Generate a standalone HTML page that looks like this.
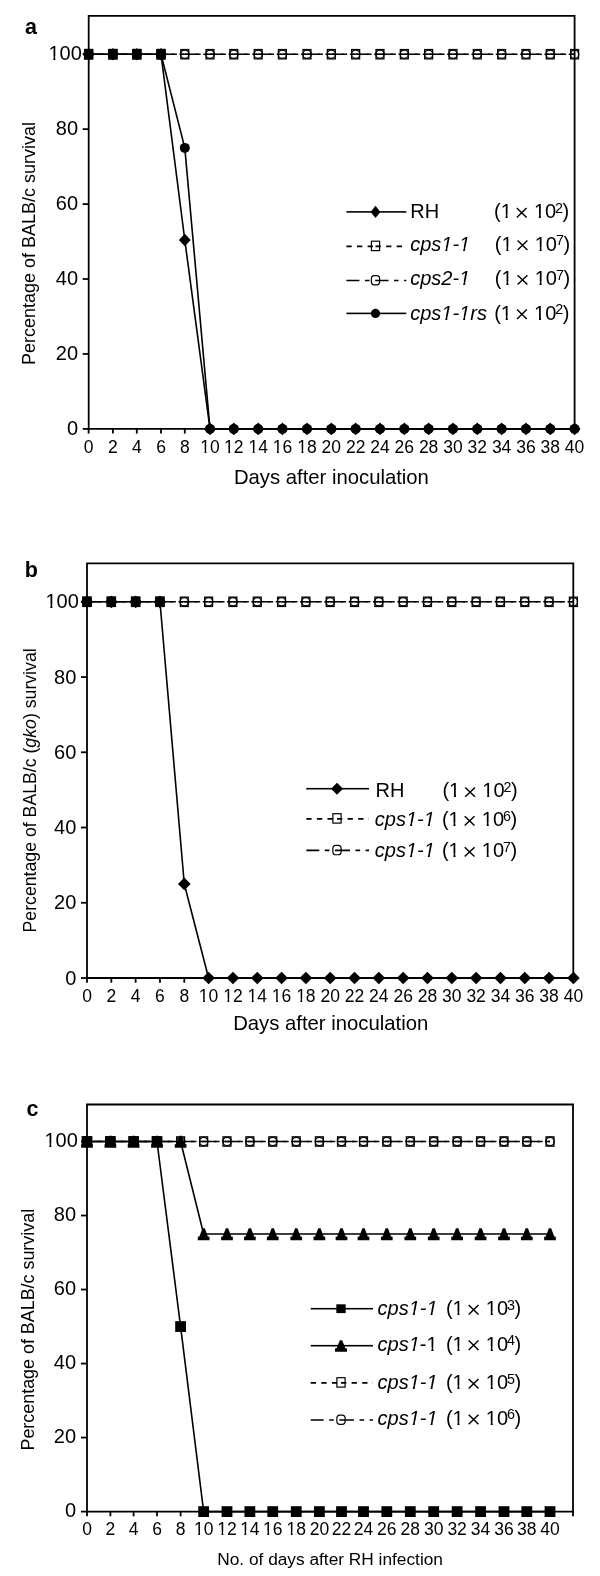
<!DOCTYPE html>
<html><head><meta charset="utf-8"><style>
html,body{margin:0;padding:0;background:#fff;}
svg{display:block;will-change:transform;}
text{font-family:"Liberation Sans", sans-serif;fill:#000;}
</style></head><body>
<svg width="600" height="1576" viewBox="0 0 600 1576">
<rect width="600" height="1576" fill="#fff"/>
<path d="M88.7 15.8H574.6V428.9H88.7Z" fill="none" stroke="#000" stroke-width="1.8"/>
<path d="M82.7 428.9H88.7" stroke="#000" stroke-width="1.8"/>
<text x="78.1" y="434.7" text-anchor="end" font-size="20">0</text>
<path d="M82.7 353.96H88.7" stroke="#000" stroke-width="1.8"/>
<text x="78.1" y="359.76" text-anchor="end" font-size="20">20</text>
<path d="M82.7 279.02H88.7" stroke="#000" stroke-width="1.8"/>
<text x="78.1" y="284.82" text-anchor="end" font-size="20">40</text>
<path d="M82.7 204.08H88.7" stroke="#000" stroke-width="1.8"/>
<text x="78.1" y="209.88" text-anchor="end" font-size="20">60</text>
<path d="M82.7 129.14H88.7" stroke="#000" stroke-width="1.8"/>
<text x="78.1" y="134.94" text-anchor="end" font-size="20">80</text>
<path d="M82.7 54.2H88.7" stroke="#000" stroke-width="1.8"/>
<text x="81.8" y="60" text-anchor="end" font-size="20">100</text>
<path d="M88.6 428.9V433.6" stroke="#000" stroke-width="1.8"/>
<text x="88.6" y="453.1" text-anchor="middle" font-size="17.5">0</text>
<path d="M112.9 428.9V433.6" stroke="#000" stroke-width="1.8"/>
<text x="112.9" y="453.1" text-anchor="middle" font-size="17.5">2</text>
<path d="M136.8 428.9V433.6" stroke="#000" stroke-width="1.8"/>
<text x="136.8" y="453.1" text-anchor="middle" font-size="17.5">4</text>
<path d="M161 428.9V433.6" stroke="#000" stroke-width="1.8"/>
<text x="161" y="453.1" text-anchor="middle" font-size="17.5">6</text>
<path d="M184.8 428.9V433.6" stroke="#000" stroke-width="1.8"/>
<text x="184.8" y="453.1" text-anchor="middle" font-size="17.5">8</text>
<path d="M210 428.9V433.6" stroke="#000" stroke-width="1.8"/>
<text x="210" y="453.1" text-anchor="middle" font-size="17.5">10</text>
<path d="M233.8 428.9V433.6" stroke="#000" stroke-width="1.8"/>
<text x="233.8" y="453.1" text-anchor="middle" font-size="17.5">12</text>
<path d="M258.2 428.9V433.6" stroke="#000" stroke-width="1.8"/>
<text x="258.2" y="453.1" text-anchor="middle" font-size="17.5">14</text>
<path d="M282.4 428.9V433.6" stroke="#000" stroke-width="1.8"/>
<text x="282.4" y="453.1" text-anchor="middle" font-size="17.5">16</text>
<path d="M307 428.9V433.6" stroke="#000" stroke-width="1.8"/>
<text x="307" y="453.1" text-anchor="middle" font-size="17.5">18</text>
<path d="M331.33 428.9V433.6" stroke="#000" stroke-width="1.8"/>
<text x="331.33" y="453.1" text-anchor="middle" font-size="17.5">20</text>
<path d="M355.65 428.9V433.6" stroke="#000" stroke-width="1.8"/>
<text x="355.65" y="453.1" text-anchor="middle" font-size="17.5">22</text>
<path d="M379.98 428.9V433.6" stroke="#000" stroke-width="1.8"/>
<text x="379.98" y="453.1" text-anchor="middle" font-size="17.5">24</text>
<path d="M404.31 428.9V433.6" stroke="#000" stroke-width="1.8"/>
<text x="404.31" y="453.1" text-anchor="middle" font-size="17.5">26</text>
<path d="M428.64 428.9V433.6" stroke="#000" stroke-width="1.8"/>
<text x="428.64" y="453.1" text-anchor="middle" font-size="17.5">28</text>
<path d="M452.96 428.9V433.6" stroke="#000" stroke-width="1.8"/>
<text x="452.96" y="453.1" text-anchor="middle" font-size="17.5">30</text>
<path d="M477.29 428.9V433.6" stroke="#000" stroke-width="1.8"/>
<text x="477.29" y="453.1" text-anchor="middle" font-size="17.5">32</text>
<path d="M501.62 428.9V433.6" stroke="#000" stroke-width="1.8"/>
<text x="501.62" y="453.1" text-anchor="middle" font-size="17.5">34</text>
<path d="M525.95 428.9V433.6" stroke="#000" stroke-width="1.8"/>
<text x="525.95" y="453.1" text-anchor="middle" font-size="17.5">36</text>
<path d="M550.27 428.9V433.6" stroke="#000" stroke-width="1.8"/>
<text x="550.27" y="453.1" text-anchor="middle" font-size="17.5">38</text>
<path d="M574.6 428.9V433.6" stroke="#000" stroke-width="1.8"/>
<text x="574.6" y="453.1" text-anchor="middle" font-size="17.5">40</text>
<text x="331.4" y="484.3" text-anchor="middle" font-size="20.3">Days after inoculation</text>
<text transform="translate(34.5 243.5) rotate(-90)" text-anchor="middle" font-size="18">Percentage of BALB/c survival</text>
<text x="25" y="34.2" font-size="21.5" font-weight="bold">a</text>
<path d="M88.6 54.2L112.9 54.2" fill="none" stroke="#000" stroke-width="1.6" stroke-dasharray="5.3 5.3"/>
<path d="M112.9 54.2L136.8 54.2" fill="none" stroke="#000" stroke-width="1.6" stroke-dasharray="5.3 5.3"/>
<path d="M136.8 54.2L161 54.2" fill="none" stroke="#000" stroke-width="1.6" stroke-dasharray="5.3 5.3"/>
<path d="M161 54.2L184.8 54.2" fill="none" stroke="#000" stroke-width="1.6" stroke-dasharray="5.3 5.3"/>
<path d="M184.8 54.2L210 54.2" fill="none" stroke="#000" stroke-width="1.6" stroke-dasharray="5.3 5.3"/>
<path d="M210 54.2L233.8 54.2" fill="none" stroke="#000" stroke-width="1.6" stroke-dasharray="5.3 5.3"/>
<path d="M233.8 54.2L258.2 54.2" fill="none" stroke="#000" stroke-width="1.6" stroke-dasharray="5.3 5.3"/>
<path d="M258.2 54.2L282.4 54.2" fill="none" stroke="#000" stroke-width="1.6" stroke-dasharray="5.3 5.3"/>
<path d="M282.4 54.2L307 54.2" fill="none" stroke="#000" stroke-width="1.6" stroke-dasharray="5.3 5.3"/>
<path d="M307 54.2L331.33 54.2" fill="none" stroke="#000" stroke-width="1.6" stroke-dasharray="5.3 5.3"/>
<path d="M331.33 54.2L355.65 54.2" fill="none" stroke="#000" stroke-width="1.6" stroke-dasharray="5.3 5.3"/>
<path d="M355.65 54.2L379.98 54.2" fill="none" stroke="#000" stroke-width="1.6" stroke-dasharray="5.3 5.3"/>
<path d="M379.98 54.2L404.31 54.2" fill="none" stroke="#000" stroke-width="1.6" stroke-dasharray="5.3 5.3"/>
<path d="M404.31 54.2L428.64 54.2" fill="none" stroke="#000" stroke-width="1.6" stroke-dasharray="5.3 5.3"/>
<path d="M428.64 54.2L452.96 54.2" fill="none" stroke="#000" stroke-width="1.6" stroke-dasharray="5.3 5.3"/>
<path d="M452.96 54.2L477.29 54.2" fill="none" stroke="#000" stroke-width="1.6" stroke-dasharray="5.3 5.3"/>
<path d="M477.29 54.2L501.62 54.2" fill="none" stroke="#000" stroke-width="1.6" stroke-dasharray="5.3 5.3"/>
<path d="M501.62 54.2L525.95 54.2" fill="none" stroke="#000" stroke-width="1.6" stroke-dasharray="5.3 5.3"/>
<path d="M525.95 54.2L550.27 54.2" fill="none" stroke="#000" stroke-width="1.6" stroke-dasharray="5.3 5.3"/>
<path d="M550.27 54.2L574.6 54.2" fill="none" stroke="#000" stroke-width="1.6" stroke-dasharray="5.3 5.3"/>
<rect x="84.65" y="49.55" width="7.9" height="9.3" fill="none" stroke="#000" stroke-width="1.3"/>
<rect x="108.95" y="49.55" width="7.9" height="9.3" fill="none" stroke="#000" stroke-width="1.3"/>
<rect x="132.85" y="49.55" width="7.9" height="9.3" fill="none" stroke="#000" stroke-width="1.3"/>
<rect x="157.05" y="49.55" width="7.9" height="9.3" fill="none" stroke="#000" stroke-width="1.3"/>
<rect x="180.85" y="49.55" width="7.9" height="9.3" fill="none" stroke="#000" stroke-width="1.3"/>
<rect x="206.05" y="49.55" width="7.9" height="9.3" fill="none" stroke="#000" stroke-width="1.3"/>
<rect x="229.85" y="49.55" width="7.9" height="9.3" fill="none" stroke="#000" stroke-width="1.3"/>
<rect x="254.25" y="49.55" width="7.9" height="9.3" fill="none" stroke="#000" stroke-width="1.3"/>
<rect x="278.45" y="49.55" width="7.9" height="9.3" fill="none" stroke="#000" stroke-width="1.3"/>
<rect x="303.05" y="49.55" width="7.9" height="9.3" fill="none" stroke="#000" stroke-width="1.3"/>
<rect x="327.38" y="49.55" width="7.9" height="9.3" fill="none" stroke="#000" stroke-width="1.3"/>
<rect x="351.7" y="49.55" width="7.9" height="9.3" fill="none" stroke="#000" stroke-width="1.3"/>
<rect x="376.03" y="49.55" width="7.9" height="9.3" fill="none" stroke="#000" stroke-width="1.3"/>
<rect x="400.36" y="49.55" width="7.9" height="9.3" fill="none" stroke="#000" stroke-width="1.3"/>
<rect x="424.69" y="49.55" width="7.9" height="9.3" fill="none" stroke="#000" stroke-width="1.3"/>
<rect x="449.01" y="49.55" width="7.9" height="9.3" fill="none" stroke="#000" stroke-width="1.3"/>
<rect x="473.34" y="49.55" width="7.9" height="9.3" fill="none" stroke="#000" stroke-width="1.3"/>
<rect x="497.67" y="49.55" width="7.9" height="9.3" fill="none" stroke="#000" stroke-width="1.3"/>
<rect x="522" y="49.55" width="7.9" height="9.3" fill="none" stroke="#000" stroke-width="1.3"/>
<rect x="546.32" y="49.55" width="7.9" height="9.3" fill="none" stroke="#000" stroke-width="1.3"/>
<rect x="570.65" y="49.55" width="7.9" height="9.3" fill="none" stroke="#000" stroke-width="1.3"/>
<path d="M88.6 54.2L112.9 54.2" fill="none" stroke="#000" stroke-width="1.6" stroke-dasharray="13 5.5 4.6 5.5"/>
<path d="M112.9 54.2L136.8 54.2" fill="none" stroke="#000" stroke-width="1.6" stroke-dasharray="13 5.5 4.6 5.5"/>
<path d="M136.8 54.2L161 54.2" fill="none" stroke="#000" stroke-width="1.6" stroke-dasharray="13 5.5 4.6 5.5"/>
<path d="M161 54.2L184.8 54.2" fill="none" stroke="#000" stroke-width="1.6" stroke-dasharray="13 5.5 4.6 5.5"/>
<path d="M184.8 54.2L210 54.2" fill="none" stroke="#000" stroke-width="1.6" stroke-dasharray="13 5.5 4.6 5.5"/>
<path d="M210 54.2L233.8 54.2" fill="none" stroke="#000" stroke-width="1.6" stroke-dasharray="13 5.5 4.6 5.5"/>
<path d="M233.8 54.2L258.2 54.2" fill="none" stroke="#000" stroke-width="1.6" stroke-dasharray="13 5.5 4.6 5.5"/>
<path d="M258.2 54.2L282.4 54.2" fill="none" stroke="#000" stroke-width="1.6" stroke-dasharray="13 5.5 4.6 5.5"/>
<path d="M282.4 54.2L307 54.2" fill="none" stroke="#000" stroke-width="1.6" stroke-dasharray="13 5.5 4.6 5.5"/>
<path d="M307 54.2L331.33 54.2" fill="none" stroke="#000" stroke-width="1.6" stroke-dasharray="13 5.5 4.6 5.5"/>
<path d="M331.33 54.2L355.65 54.2" fill="none" stroke="#000" stroke-width="1.6" stroke-dasharray="13 5.5 4.6 5.5"/>
<path d="M355.65 54.2L379.98 54.2" fill="none" stroke="#000" stroke-width="1.6" stroke-dasharray="13 5.5 4.6 5.5"/>
<path d="M379.98 54.2L404.31 54.2" fill="none" stroke="#000" stroke-width="1.6" stroke-dasharray="13 5.5 4.6 5.5"/>
<path d="M404.31 54.2L428.64 54.2" fill="none" stroke="#000" stroke-width="1.6" stroke-dasharray="13 5.5 4.6 5.5"/>
<path d="M428.64 54.2L452.96 54.2" fill="none" stroke="#000" stroke-width="1.6" stroke-dasharray="13 5.5 4.6 5.5"/>
<path d="M452.96 54.2L477.29 54.2" fill="none" stroke="#000" stroke-width="1.6" stroke-dasharray="13 5.5 4.6 5.5"/>
<path d="M477.29 54.2L501.62 54.2" fill="none" stroke="#000" stroke-width="1.6" stroke-dasharray="13 5.5 4.6 5.5"/>
<path d="M501.62 54.2L525.95 54.2" fill="none" stroke="#000" stroke-width="1.6" stroke-dasharray="13 5.5 4.6 5.5"/>
<path d="M525.95 54.2L550.27 54.2" fill="none" stroke="#000" stroke-width="1.6" stroke-dasharray="13 5.5 4.6 5.5"/>
<path d="M550.27 54.2L574.6 54.2" fill="none" stroke="#000" stroke-width="1.6" stroke-dasharray="13 5.5 4.6 5.5"/>
<circle cx="88.6" cy="54.2" r="4.17" fill="none" stroke="#000" stroke-width="1.25"/>
<circle cx="112.9" cy="54.2" r="4.17" fill="none" stroke="#000" stroke-width="1.25"/>
<circle cx="136.8" cy="54.2" r="4.17" fill="none" stroke="#000" stroke-width="1.25"/>
<circle cx="161" cy="54.2" r="4.17" fill="none" stroke="#000" stroke-width="1.25"/>
<circle cx="184.8" cy="54.2" r="4.17" fill="none" stroke="#000" stroke-width="1.25"/>
<circle cx="210" cy="54.2" r="4.17" fill="none" stroke="#000" stroke-width="1.25"/>
<circle cx="233.8" cy="54.2" r="4.17" fill="none" stroke="#000" stroke-width="1.25"/>
<circle cx="258.2" cy="54.2" r="4.17" fill="none" stroke="#000" stroke-width="1.25"/>
<circle cx="282.4" cy="54.2" r="4.17" fill="none" stroke="#000" stroke-width="1.25"/>
<circle cx="307" cy="54.2" r="4.17" fill="none" stroke="#000" stroke-width="1.25"/>
<circle cx="331.33" cy="54.2" r="4.17" fill="none" stroke="#000" stroke-width="1.25"/>
<circle cx="355.65" cy="54.2" r="4.17" fill="none" stroke="#000" stroke-width="1.25"/>
<circle cx="379.98" cy="54.2" r="4.17" fill="none" stroke="#000" stroke-width="1.25"/>
<circle cx="404.31" cy="54.2" r="4.17" fill="none" stroke="#000" stroke-width="1.25"/>
<circle cx="428.64" cy="54.2" r="4.17" fill="none" stroke="#000" stroke-width="1.25"/>
<circle cx="452.96" cy="54.2" r="4.17" fill="none" stroke="#000" stroke-width="1.25"/>
<circle cx="477.29" cy="54.2" r="4.17" fill="none" stroke="#000" stroke-width="1.25"/>
<circle cx="501.62" cy="54.2" r="4.17" fill="none" stroke="#000" stroke-width="1.25"/>
<circle cx="525.95" cy="54.2" r="4.17" fill="none" stroke="#000" stroke-width="1.25"/>
<circle cx="550.27" cy="54.2" r="4.17" fill="none" stroke="#000" stroke-width="1.25"/>
<circle cx="574.6" cy="54.2" r="4.17" fill="none" stroke="#000" stroke-width="1.25"/>
<path d="M88.6 54.2 L112.9 54.2 L136.8 54.2 L161 54.2 L184.8 240 L210 428.9 L233.8 428.9 L258.2 428.9 L282.4 428.9 L307 428.9 L331.33 428.9 L355.65 428.9 L379.98 428.9 L404.31 428.9 L428.64 428.9 L452.96 428.9 L477.29 428.9 L501.62 428.9 L525.95 428.9 L550.27 428.9 L574.6 428.9" fill="none" stroke="#000" stroke-width="1.6" stroke-linejoin="round"/>
<path d="M88.6 47.9L94.5 54.2L88.6 60.5L82.7 54.2Z" fill="#000"/>
<path d="M112.9 47.9L118.8 54.2L112.9 60.5L107 54.2Z" fill="#000"/>
<path d="M136.8 47.9L142.7 54.2L136.8 60.5L130.9 54.2Z" fill="#000"/>
<path d="M161 47.9L166.9 54.2L161 60.5L155.1 54.2Z" fill="#000"/>
<path d="M184.8 233.7L190.7 240L184.8 246.3L178.9 240Z" fill="#000"/>
<path d="M210 422.6L215.9 428.9L210 435.2L204.1 428.9Z" fill="#000"/>
<path d="M233.8 422.6L239.7 428.9L233.8 435.2L227.9 428.9Z" fill="#000"/>
<path d="M258.2 422.6L264.1 428.9L258.2 435.2L252.3 428.9Z" fill="#000"/>
<path d="M282.4 422.6L288.3 428.9L282.4 435.2L276.5 428.9Z" fill="#000"/>
<path d="M307 422.6L312.9 428.9L307 435.2L301.1 428.9Z" fill="#000"/>
<path d="M331.33 422.6L337.23 428.9L331.33 435.2L325.43 428.9Z" fill="#000"/>
<path d="M355.65 422.6L361.55 428.9L355.65 435.2L349.75 428.9Z" fill="#000"/>
<path d="M379.98 422.6L385.88 428.9L379.98 435.2L374.08 428.9Z" fill="#000"/>
<path d="M404.31 422.6L410.21 428.9L404.31 435.2L398.41 428.9Z" fill="#000"/>
<path d="M428.64 422.6L434.54 428.9L428.64 435.2L422.74 428.9Z" fill="#000"/>
<path d="M452.96 422.6L458.86 428.9L452.96 435.2L447.06 428.9Z" fill="#000"/>
<path d="M477.29 422.6L483.19 428.9L477.29 435.2L471.39 428.9Z" fill="#000"/>
<path d="M501.62 422.6L507.52 428.9L501.62 435.2L495.72 428.9Z" fill="#000"/>
<path d="M525.95 422.6L531.85 428.9L525.95 435.2L520.05 428.9Z" fill="#000"/>
<path d="M550.27 422.6L556.17 428.9L550.27 435.2L544.37 428.9Z" fill="#000"/>
<path d="M574.6 422.6L580.5 428.9L574.6 435.2L568.7 428.9Z" fill="#000"/>
<path d="M88.6 54.2 L112.9 54.2 L136.8 54.2 L161 54.2 L184.8 147.88 L210 428.9 L233.8 428.9 L258.2 428.9 L282.4 428.9 L307 428.9 L331.33 428.9 L355.65 428.9 L379.98 428.9 L404.31 428.9 L428.64 428.9 L452.96 428.9 L477.29 428.9 L501.62 428.9 L525.95 428.9 L550.27 428.9 L574.6 428.9" fill="none" stroke="#000" stroke-width="1.6" stroke-linejoin="round"/>
<circle cx="88.6" cy="54.2" r="5" fill="#000"/>
<circle cx="112.9" cy="54.2" r="5" fill="#000"/>
<circle cx="136.8" cy="54.2" r="5" fill="#000"/>
<circle cx="161" cy="54.2" r="5" fill="#000"/>
<circle cx="184.8" cy="147.88" r="5" fill="#000"/>
<circle cx="210" cy="428.9" r="5" fill="#000"/>
<circle cx="233.8" cy="428.9" r="5" fill="#000"/>
<circle cx="258.2" cy="428.9" r="5" fill="#000"/>
<circle cx="282.4" cy="428.9" r="5" fill="#000"/>
<circle cx="307" cy="428.9" r="5" fill="#000"/>
<circle cx="331.33" cy="428.9" r="5" fill="#000"/>
<circle cx="355.65" cy="428.9" r="5" fill="#000"/>
<circle cx="379.98" cy="428.9" r="5" fill="#000"/>
<circle cx="404.31" cy="428.9" r="5" fill="#000"/>
<circle cx="428.64" cy="428.9" r="5" fill="#000"/>
<circle cx="452.96" cy="428.9" r="5" fill="#000"/>
<circle cx="477.29" cy="428.9" r="5" fill="#000"/>
<circle cx="501.62" cy="428.9" r="5" fill="#000"/>
<circle cx="525.95" cy="428.9" r="5" fill="#000"/>
<circle cx="550.27" cy="428.9" r="5" fill="#000"/>
<circle cx="574.6" cy="428.9" r="5" fill="#000"/>
<rect x="83.9" y="48.9" width="9.4" height="10.6" fill="#000"/>
<rect x="108.2" y="48.9" width="9.4" height="10.6" fill="#000"/>
<rect x="132.1" y="48.9" width="9.4" height="10.6" fill="#000"/>
<rect x="156.3" y="48.9" width="9.4" height="10.6" fill="#000"/>
<path d="M346.4 211.9H375.5" stroke="#000" stroke-width="1.6" />
<path d="M375.5 211.9H406.3" stroke="#000" stroke-width="1.6" />
<path d="M375.5 205.8L380.4 211.9L375.5 218L370.6 211.9Z" fill="#000"/>
<text x="410.2" y="218" font-size="20">RH</text>
<text x="494" y="218" font-size="20">(1</text>
<path d="M516.8 208L526.6 217.4M526.6 208L516.8 217.4" stroke="#000" stroke-width="1.45"/>
<text x="533.9" y="218" font-size="20">10</text>
<text x="555.1" y="212.5" font-size="14.3">2</text>
<text x="562.6" y="218" font-size="20">)</text>
<path d="M346.4 246.4H375.5" stroke="#000" stroke-width="1.6" stroke-dasharray="5.3 5.3"/>
<path d="M375.5 246.4H406.3" stroke="#000" stroke-width="1.6" stroke-dasharray="5.3 5.3"/>
<rect x="371.4" y="241.2" width="8.2" height="9.4" fill="none" stroke="#000" stroke-width="1.2"/>
<text x="410.2" y="250.6" font-size="20"><tspan font-style="italic">cps1-1</tspan></text>
<text x="494.8" y="250.6" font-size="20">(1</text>
<path d="M517.6 240.6L527.4 250M527.4 240.6L517.6 250" stroke="#000" stroke-width="1.45"/>
<text x="534.7" y="250.6" font-size="20">10</text>
<text x="555.9" y="245.1" font-size="14.3">7</text>
<text x="563.4" y="250.6" font-size="20">)</text>
<path d="M346.4 280.5H375.5" stroke="#000" stroke-width="1.6" stroke-dasharray="13 5.5 4.6 5.5"/>
<path d="M375.5 280.5H406.3" stroke="#000" stroke-width="1.6" stroke-dasharray="13 5.5 4.6 5.5"/>
<rect x="371.35" y="275.55" width="8.3" height="9.3" rx="3" ry="3.3" fill="none" stroke="#000" stroke-width="1.2"/>
<text x="410.2" y="285.2" font-size="20"><tspan font-style="italic">cps2-1</tspan></text>
<text x="494.8" y="285.2" font-size="20">(1</text>
<path d="M517.6 275.2L527.4 284.6M527.4 275.2L517.6 284.6" stroke="#000" stroke-width="1.45"/>
<text x="534.7" y="285.2" font-size="20">10</text>
<text x="555.9" y="279.7" font-size="14.3">7</text>
<text x="563.4" y="285.2" font-size="20">)</text>
<path d="M346.4 313.4H375.5" stroke="#000" stroke-width="1.6" />
<path d="M375.5 313.4H406.3" stroke="#000" stroke-width="1.6" />
<circle cx="375.5" cy="313.4" r="4.6" fill="#000"/>
<text x="410.2" y="319.5" font-size="20"><tspan font-style="italic">cps1-1rs</tspan></text>
<text x="494.2" y="319.5" font-size="20">(1</text>
<path d="M517 309.5L526.8 318.9M526.8 309.5L517 318.9" stroke="#000" stroke-width="1.45"/>
<text x="534.1" y="319.5" font-size="20">10</text>
<text x="555.3" y="314" font-size="14.3">2</text>
<text x="562.8" y="319.5" font-size="20">)</text>
<path d="M87 563.3H573.3V978H87Z" fill="none" stroke="#000" stroke-width="1.8"/>
<path d="M81 978H87" stroke="#000" stroke-width="1.8"/>
<text x="76.3" y="984.5" text-anchor="end" font-size="20">0</text>
<path d="M81 902.76H87" stroke="#000" stroke-width="1.8"/>
<text x="76.3" y="909.26" text-anchor="end" font-size="20">20</text>
<path d="M81 827.52H87" stroke="#000" stroke-width="1.8"/>
<text x="76.3" y="834.02" text-anchor="end" font-size="20">40</text>
<path d="M81 752.28H87" stroke="#000" stroke-width="1.8"/>
<text x="76.3" y="758.78" text-anchor="end" font-size="20">60</text>
<path d="M81 677.04H87" stroke="#000" stroke-width="1.8"/>
<text x="76.3" y="683.54" text-anchor="end" font-size="20">80</text>
<path d="M81 601.8H87" stroke="#000" stroke-width="1.8"/>
<text x="78.8" y="608.3" text-anchor="end" font-size="20">100</text>
<path d="M87 978V982.7" stroke="#000" stroke-width="1.8"/>
<text x="87" y="1002" text-anchor="middle" font-size="17.5">0</text>
<path d="M111.32 978V982.7" stroke="#000" stroke-width="1.8"/>
<text x="111.32" y="1002" text-anchor="middle" font-size="17.5">2</text>
<path d="M135.64 978V982.7" stroke="#000" stroke-width="1.8"/>
<text x="135.64" y="1002" text-anchor="middle" font-size="17.5">4</text>
<path d="M159.96 978V982.7" stroke="#000" stroke-width="1.8"/>
<text x="159.96" y="1002" text-anchor="middle" font-size="17.5">6</text>
<path d="M184.28 978V982.7" stroke="#000" stroke-width="1.8"/>
<text x="184.28" y="1002" text-anchor="middle" font-size="17.5">8</text>
<path d="M208.6 978V982.7" stroke="#000" stroke-width="1.8"/>
<text x="208.6" y="1002" text-anchor="middle" font-size="17.5">10</text>
<path d="M232.92 978V982.7" stroke="#000" stroke-width="1.8"/>
<text x="232.92" y="1002" text-anchor="middle" font-size="17.5">12</text>
<path d="M257.24 978V982.7" stroke="#000" stroke-width="1.8"/>
<text x="257.24" y="1002" text-anchor="middle" font-size="17.5">14</text>
<path d="M281.56 978V982.7" stroke="#000" stroke-width="1.8"/>
<text x="281.56" y="1002" text-anchor="middle" font-size="17.5">16</text>
<path d="M305.88 978V982.7" stroke="#000" stroke-width="1.8"/>
<text x="305.88" y="1002" text-anchor="middle" font-size="17.5">18</text>
<path d="M330.2 978V982.7" stroke="#000" stroke-width="1.8"/>
<text x="330.2" y="1002" text-anchor="middle" font-size="17.5">20</text>
<path d="M354.52 978V982.7" stroke="#000" stroke-width="1.8"/>
<text x="354.52" y="1002" text-anchor="middle" font-size="17.5">22</text>
<path d="M378.84 978V982.7" stroke="#000" stroke-width="1.8"/>
<text x="378.84" y="1002" text-anchor="middle" font-size="17.5">24</text>
<path d="M403.16 978V982.7" stroke="#000" stroke-width="1.8"/>
<text x="403.16" y="1002" text-anchor="middle" font-size="17.5">26</text>
<path d="M427.48 978V982.7" stroke="#000" stroke-width="1.8"/>
<text x="427.48" y="1002" text-anchor="middle" font-size="17.5">28</text>
<path d="M451.8 978V982.7" stroke="#000" stroke-width="1.8"/>
<text x="451.8" y="1002" text-anchor="middle" font-size="17.5">30</text>
<path d="M476.12 978V982.7" stroke="#000" stroke-width="1.8"/>
<text x="476.12" y="1002" text-anchor="middle" font-size="17.5">32</text>
<path d="M500.44 978V982.7" stroke="#000" stroke-width="1.8"/>
<text x="500.44" y="1002" text-anchor="middle" font-size="17.5">34</text>
<path d="M524.76 978V982.7" stroke="#000" stroke-width="1.8"/>
<text x="524.76" y="1002" text-anchor="middle" font-size="17.5">36</text>
<path d="M549.08 978V982.7" stroke="#000" stroke-width="1.8"/>
<text x="549.08" y="1002" text-anchor="middle" font-size="17.5">38</text>
<path d="M573.4 978V982.7" stroke="#000" stroke-width="1.8"/>
<text x="573.4" y="1002" text-anchor="middle" font-size="17.5">40</text>
<text x="330.7" y="1030.3" text-anchor="middle" font-size="20.3">Days after inoculation</text>
<text transform="translate(35.5 790.4) rotate(-90)" text-anchor="middle" font-size="17.7">Percentage of BALB/c (<tspan font-style="italic">gko</tspan>) survival</text>
<text x="24.8" y="576.6" font-size="21.5" font-weight="bold">b</text>
<path d="M87 601.8L111.32 601.8" fill="none" stroke="#000" stroke-width="1.6" stroke-dasharray="5.3 5.3"/>
<path d="M111.32 601.8L135.64 601.8" fill="none" stroke="#000" stroke-width="1.6" stroke-dasharray="5.3 5.3"/>
<path d="M135.64 601.8L159.96 601.8" fill="none" stroke="#000" stroke-width="1.6" stroke-dasharray="5.3 5.3"/>
<path d="M159.96 601.8L184.28 601.8" fill="none" stroke="#000" stroke-width="1.6" stroke-dasharray="5.3 5.3"/>
<path d="M184.28 601.8L208.6 601.8" fill="none" stroke="#000" stroke-width="1.6" stroke-dasharray="5.3 5.3"/>
<path d="M208.6 601.8L232.92 601.8" fill="none" stroke="#000" stroke-width="1.6" stroke-dasharray="5.3 5.3"/>
<path d="M232.92 601.8L257.24 601.8" fill="none" stroke="#000" stroke-width="1.6" stroke-dasharray="5.3 5.3"/>
<path d="M257.24 601.8L281.56 601.8" fill="none" stroke="#000" stroke-width="1.6" stroke-dasharray="5.3 5.3"/>
<path d="M281.56 601.8L305.88 601.8" fill="none" stroke="#000" stroke-width="1.6" stroke-dasharray="5.3 5.3"/>
<path d="M305.88 601.8L330.2 601.8" fill="none" stroke="#000" stroke-width="1.6" stroke-dasharray="5.3 5.3"/>
<path d="M330.2 601.8L354.52 601.8" fill="none" stroke="#000" stroke-width="1.6" stroke-dasharray="5.3 5.3"/>
<path d="M354.52 601.8L378.84 601.8" fill="none" stroke="#000" stroke-width="1.6" stroke-dasharray="5.3 5.3"/>
<path d="M378.84 601.8L403.16 601.8" fill="none" stroke="#000" stroke-width="1.6" stroke-dasharray="5.3 5.3"/>
<path d="M403.16 601.8L427.48 601.8" fill="none" stroke="#000" stroke-width="1.6" stroke-dasharray="5.3 5.3"/>
<path d="M427.48 601.8L451.8 601.8" fill="none" stroke="#000" stroke-width="1.6" stroke-dasharray="5.3 5.3"/>
<path d="M451.8 601.8L476.12 601.8" fill="none" stroke="#000" stroke-width="1.6" stroke-dasharray="5.3 5.3"/>
<path d="M476.12 601.8L500.44 601.8" fill="none" stroke="#000" stroke-width="1.6" stroke-dasharray="5.3 5.3"/>
<path d="M500.44 601.8L524.76 601.8" fill="none" stroke="#000" stroke-width="1.6" stroke-dasharray="5.3 5.3"/>
<path d="M524.76 601.8L549.08 601.8" fill="none" stroke="#000" stroke-width="1.6" stroke-dasharray="5.3 5.3"/>
<path d="M549.08 601.8L573.4 601.8" fill="none" stroke="#000" stroke-width="1.6" stroke-dasharray="5.3 5.3"/>
<rect x="83.05" y="597.15" width="7.9" height="9.3" fill="none" stroke="#000" stroke-width="1.3"/>
<rect x="107.37" y="597.15" width="7.9" height="9.3" fill="none" stroke="#000" stroke-width="1.3"/>
<rect x="131.69" y="597.15" width="7.9" height="9.3" fill="none" stroke="#000" stroke-width="1.3"/>
<rect x="156.01" y="597.15" width="7.9" height="9.3" fill="none" stroke="#000" stroke-width="1.3"/>
<rect x="180.33" y="597.15" width="7.9" height="9.3" fill="none" stroke="#000" stroke-width="1.3"/>
<rect x="204.65" y="597.15" width="7.9" height="9.3" fill="none" stroke="#000" stroke-width="1.3"/>
<rect x="228.97" y="597.15" width="7.9" height="9.3" fill="none" stroke="#000" stroke-width="1.3"/>
<rect x="253.29" y="597.15" width="7.9" height="9.3" fill="none" stroke="#000" stroke-width="1.3"/>
<rect x="277.61" y="597.15" width="7.9" height="9.3" fill="none" stroke="#000" stroke-width="1.3"/>
<rect x="301.93" y="597.15" width="7.9" height="9.3" fill="none" stroke="#000" stroke-width="1.3"/>
<rect x="326.25" y="597.15" width="7.9" height="9.3" fill="none" stroke="#000" stroke-width="1.3"/>
<rect x="350.57" y="597.15" width="7.9" height="9.3" fill="none" stroke="#000" stroke-width="1.3"/>
<rect x="374.89" y="597.15" width="7.9" height="9.3" fill="none" stroke="#000" stroke-width="1.3"/>
<rect x="399.21" y="597.15" width="7.9" height="9.3" fill="none" stroke="#000" stroke-width="1.3"/>
<rect x="423.53" y="597.15" width="7.9" height="9.3" fill="none" stroke="#000" stroke-width="1.3"/>
<rect x="447.85" y="597.15" width="7.9" height="9.3" fill="none" stroke="#000" stroke-width="1.3"/>
<rect x="472.17" y="597.15" width="7.9" height="9.3" fill="none" stroke="#000" stroke-width="1.3"/>
<rect x="496.49" y="597.15" width="7.9" height="9.3" fill="none" stroke="#000" stroke-width="1.3"/>
<rect x="520.81" y="597.15" width="7.9" height="9.3" fill="none" stroke="#000" stroke-width="1.3"/>
<rect x="545.13" y="597.15" width="7.9" height="9.3" fill="none" stroke="#000" stroke-width="1.3"/>
<rect x="569.45" y="597.15" width="7.9" height="9.3" fill="none" stroke="#000" stroke-width="1.3"/>
<path d="M87 601.8L111.32 601.8" fill="none" stroke="#000" stroke-width="1.6" stroke-dasharray="13 5.5 4.6 5.5"/>
<path d="M111.32 601.8L135.64 601.8" fill="none" stroke="#000" stroke-width="1.6" stroke-dasharray="13 5.5 4.6 5.5"/>
<path d="M135.64 601.8L159.96 601.8" fill="none" stroke="#000" stroke-width="1.6" stroke-dasharray="13 5.5 4.6 5.5"/>
<path d="M159.96 601.8L184.28 601.8" fill="none" stroke="#000" stroke-width="1.6" stroke-dasharray="13 5.5 4.6 5.5"/>
<path d="M184.28 601.8L208.6 601.8" fill="none" stroke="#000" stroke-width="1.6" stroke-dasharray="13 5.5 4.6 5.5"/>
<path d="M208.6 601.8L232.92 601.8" fill="none" stroke="#000" stroke-width="1.6" stroke-dasharray="13 5.5 4.6 5.5"/>
<path d="M232.92 601.8L257.24 601.8" fill="none" stroke="#000" stroke-width="1.6" stroke-dasharray="13 5.5 4.6 5.5"/>
<path d="M257.24 601.8L281.56 601.8" fill="none" stroke="#000" stroke-width="1.6" stroke-dasharray="13 5.5 4.6 5.5"/>
<path d="M281.56 601.8L305.88 601.8" fill="none" stroke="#000" stroke-width="1.6" stroke-dasharray="13 5.5 4.6 5.5"/>
<path d="M305.88 601.8L330.2 601.8" fill="none" stroke="#000" stroke-width="1.6" stroke-dasharray="13 5.5 4.6 5.5"/>
<path d="M330.2 601.8L354.52 601.8" fill="none" stroke="#000" stroke-width="1.6" stroke-dasharray="13 5.5 4.6 5.5"/>
<path d="M354.52 601.8L378.84 601.8" fill="none" stroke="#000" stroke-width="1.6" stroke-dasharray="13 5.5 4.6 5.5"/>
<path d="M378.84 601.8L403.16 601.8" fill="none" stroke="#000" stroke-width="1.6" stroke-dasharray="13 5.5 4.6 5.5"/>
<path d="M403.16 601.8L427.48 601.8" fill="none" stroke="#000" stroke-width="1.6" stroke-dasharray="13 5.5 4.6 5.5"/>
<path d="M427.48 601.8L451.8 601.8" fill="none" stroke="#000" stroke-width="1.6" stroke-dasharray="13 5.5 4.6 5.5"/>
<path d="M451.8 601.8L476.12 601.8" fill="none" stroke="#000" stroke-width="1.6" stroke-dasharray="13 5.5 4.6 5.5"/>
<path d="M476.12 601.8L500.44 601.8" fill="none" stroke="#000" stroke-width="1.6" stroke-dasharray="13 5.5 4.6 5.5"/>
<path d="M500.44 601.8L524.76 601.8" fill="none" stroke="#000" stroke-width="1.6" stroke-dasharray="13 5.5 4.6 5.5"/>
<path d="M524.76 601.8L549.08 601.8" fill="none" stroke="#000" stroke-width="1.6" stroke-dasharray="13 5.5 4.6 5.5"/>
<path d="M549.08 601.8L573.4 601.8" fill="none" stroke="#000" stroke-width="1.6" stroke-dasharray="13 5.5 4.6 5.5"/>
<circle cx="87" cy="601.8" r="4.17" fill="none" stroke="#000" stroke-width="1.25"/>
<circle cx="111.32" cy="601.8" r="4.17" fill="none" stroke="#000" stroke-width="1.25"/>
<circle cx="135.64" cy="601.8" r="4.17" fill="none" stroke="#000" stroke-width="1.25"/>
<circle cx="159.96" cy="601.8" r="4.17" fill="none" stroke="#000" stroke-width="1.25"/>
<circle cx="184.28" cy="601.8" r="4.17" fill="none" stroke="#000" stroke-width="1.25"/>
<circle cx="208.6" cy="601.8" r="4.17" fill="none" stroke="#000" stroke-width="1.25"/>
<circle cx="232.92" cy="601.8" r="4.17" fill="none" stroke="#000" stroke-width="1.25"/>
<circle cx="257.24" cy="601.8" r="4.17" fill="none" stroke="#000" stroke-width="1.25"/>
<circle cx="281.56" cy="601.8" r="4.17" fill="none" stroke="#000" stroke-width="1.25"/>
<circle cx="305.88" cy="601.8" r="4.17" fill="none" stroke="#000" stroke-width="1.25"/>
<circle cx="330.2" cy="601.8" r="4.17" fill="none" stroke="#000" stroke-width="1.25"/>
<circle cx="354.52" cy="601.8" r="4.17" fill="none" stroke="#000" stroke-width="1.25"/>
<circle cx="378.84" cy="601.8" r="4.17" fill="none" stroke="#000" stroke-width="1.25"/>
<circle cx="403.16" cy="601.8" r="4.17" fill="none" stroke="#000" stroke-width="1.25"/>
<circle cx="427.48" cy="601.8" r="4.17" fill="none" stroke="#000" stroke-width="1.25"/>
<circle cx="451.8" cy="601.8" r="4.17" fill="none" stroke="#000" stroke-width="1.25"/>
<circle cx="476.12" cy="601.8" r="4.17" fill="none" stroke="#000" stroke-width="1.25"/>
<circle cx="500.44" cy="601.8" r="4.17" fill="none" stroke="#000" stroke-width="1.25"/>
<circle cx="524.76" cy="601.8" r="4.17" fill="none" stroke="#000" stroke-width="1.25"/>
<circle cx="549.08" cy="601.8" r="4.17" fill="none" stroke="#000" stroke-width="1.25"/>
<circle cx="573.4" cy="601.8" r="4.17" fill="none" stroke="#000" stroke-width="1.25"/>
<path d="M87 601.8 L111.32 601.8 L135.64 601.8 L159.96 601.8 L184.28 883.95 L208.6 978 L232.92 978 L257.24 978 L281.56 978 L305.88 978 L330.2 978 L354.52 978 L378.84 978 L403.16 978 L427.48 978 L451.8 978 L476.12 978 L500.44 978 L524.76 978 L549.08 978 L573.4 978" fill="none" stroke="#000" stroke-width="1.6" stroke-linejoin="round"/>
<path d="M87 595.45L93.35 601.8L87 608.15L80.65 601.8Z" fill="#000"/>
<path d="M111.32 595.45L117.67 601.8L111.32 608.15L104.97 601.8Z" fill="#000"/>
<path d="M135.64 595.45L141.99 601.8L135.64 608.15L129.29 601.8Z" fill="#000"/>
<path d="M159.96 595.45L166.31 601.8L159.96 608.15L153.61 601.8Z" fill="#000"/>
<path d="M184.28 877.6L190.63 883.95L184.28 890.3L177.93 883.95Z" fill="#000"/>
<path d="M208.6 971.65L214.95 978L208.6 984.35L202.25 978Z" fill="#000"/>
<path d="M232.92 971.65L239.27 978L232.92 984.35L226.57 978Z" fill="#000"/>
<path d="M257.24 971.65L263.59 978L257.24 984.35L250.89 978Z" fill="#000"/>
<path d="M281.56 971.65L287.91 978L281.56 984.35L275.21 978Z" fill="#000"/>
<path d="M305.88 971.65L312.23 978L305.88 984.35L299.53 978Z" fill="#000"/>
<path d="M330.2 971.65L336.55 978L330.2 984.35L323.85 978Z" fill="#000"/>
<path d="M354.52 971.65L360.87 978L354.52 984.35L348.17 978Z" fill="#000"/>
<path d="M378.84 971.65L385.19 978L378.84 984.35L372.49 978Z" fill="#000"/>
<path d="M403.16 971.65L409.51 978L403.16 984.35L396.81 978Z" fill="#000"/>
<path d="M427.48 971.65L433.83 978L427.48 984.35L421.13 978Z" fill="#000"/>
<path d="M451.8 971.65L458.15 978L451.8 984.35L445.45 978Z" fill="#000"/>
<path d="M476.12 971.65L482.47 978L476.12 984.35L469.77 978Z" fill="#000"/>
<path d="M500.44 971.65L506.79 978L500.44 984.35L494.09 978Z" fill="#000"/>
<path d="M524.76 971.65L531.11 978L524.76 984.35L518.41 978Z" fill="#000"/>
<path d="M549.08 971.65L555.43 978L549.08 984.35L542.73 978Z" fill="#000"/>
<path d="M573.4 971.65L579.75 978L573.4 984.35L567.05 978Z" fill="#000"/>
<rect x="82.2" y="596.6" width="9.6" height="10.4" fill="#000"/>
<rect x="106.52" y="596.6" width="9.6" height="10.4" fill="#000"/>
<rect x="130.84" y="596.6" width="9.6" height="10.4" fill="#000"/>
<rect x="155.16" y="596.6" width="9.6" height="10.4" fill="#000"/>
<path d="M306.3 788.7H337" stroke="#000" stroke-width="1.6" />
<path d="M337 788.7H369" stroke="#000" stroke-width="1.6" />
<path d="M337 782.7L343 788.7L337 794.7L331 788.7Z" fill="#000"/>
<text x="375.6" y="797.4" font-size="20">RH</text>
<text x="442.4" y="797.4" font-size="20">(1</text>
<path d="M465.2 787.4L475 796.8M475 787.4L465.2 796.8" stroke="#000" stroke-width="1.45"/>
<text x="482.3" y="797.4" font-size="20">10</text>
<text x="503.5" y="791.9" font-size="14.3">2</text>
<text x="511" y="797.4" font-size="20">)</text>
<path d="M306.3 818.9H337" stroke="#000" stroke-width="1.6" stroke-dasharray="5.3 5.3"/>
<path d="M337 818.9H369" stroke="#000" stroke-width="1.6" stroke-dasharray="5.3 5.3"/>
<rect x="332.9" y="813.7" width="8.2" height="9.4" fill="none" stroke="#000" stroke-width="1.2"/>
<text x="374.8" y="826.2" font-size="20"><tspan font-style="italic">cps1-1</tspan></text>
<text x="441.9" y="826.2" font-size="20">(1</text>
<path d="M464.7 816.2L474.5 825.6M474.5 816.2L464.7 825.6" stroke="#000" stroke-width="1.45"/>
<text x="481.8" y="826.2" font-size="20">10</text>
<text x="503" y="820.7" font-size="14.3">6</text>
<text x="510.5" y="826.2" font-size="20">)</text>
<path d="M306.3 850.4H337" stroke="#000" stroke-width="1.6" stroke-dasharray="13 5.5 4.6 5.5"/>
<path d="M337 850.4H369" stroke="#000" stroke-width="1.6" stroke-dasharray="13 5.5 4.6 5.5"/>
<rect x="332.85" y="845.45" width="8.3" height="9.3" rx="3" ry="3.3" fill="none" stroke="#000" stroke-width="1.2"/>
<text x="374.8" y="857.2" font-size="20"><tspan font-style="italic">cps1-1</tspan></text>
<text x="441.9" y="857.2" font-size="20">(1</text>
<path d="M464.7 847.2L474.5 856.6M474.5 847.2L464.7 856.6" stroke="#000" stroke-width="1.45"/>
<text x="481.8" y="857.2" font-size="20">10</text>
<text x="503" y="851.7" font-size="14.3">7</text>
<text x="510.5" y="857.2" font-size="20">)</text>
<path d="M87 1104.5H573V1511.6H87Z" fill="none" stroke="#000" stroke-width="1.8"/>
<path d="M81 1511.6H87" stroke="#000" stroke-width="1.8"/>
<text x="76.1" y="1516.9" text-anchor="end" font-size="20">0</text>
<path d="M81 1437.58H87" stroke="#000" stroke-width="1.8"/>
<text x="76.1" y="1442.88" text-anchor="end" font-size="20">20</text>
<path d="M81 1363.56H87" stroke="#000" stroke-width="1.8"/>
<text x="76.1" y="1368.86" text-anchor="end" font-size="20">40</text>
<path d="M81 1289.54H87" stroke="#000" stroke-width="1.8"/>
<text x="76.1" y="1294.84" text-anchor="end" font-size="20">60</text>
<path d="M81 1215.52H87" stroke="#000" stroke-width="1.8"/>
<text x="76.1" y="1220.82" text-anchor="end" font-size="20">80</text>
<path d="M81 1141.5H87" stroke="#000" stroke-width="1.8"/>
<text x="77.8" y="1146.8" text-anchor="end" font-size="20">100</text>
<path d="M87 1511.6V1516.3" stroke="#000" stroke-width="1.8"/>
<text x="87" y="1534.7" text-anchor="middle" font-size="17.5">0</text>
<path d="M110.4 1511.6V1516.3" stroke="#000" stroke-width="1.8"/>
<text x="110.4" y="1534.7" text-anchor="middle" font-size="17.5">2</text>
<path d="M133.6 1511.6V1516.3" stroke="#000" stroke-width="1.8"/>
<text x="133.6" y="1534.7" text-anchor="middle" font-size="17.5">4</text>
<path d="M157 1511.6V1516.3" stroke="#000" stroke-width="1.8"/>
<text x="157" y="1534.7" text-anchor="middle" font-size="17.5">6</text>
<path d="M180.6 1511.6V1516.3" stroke="#000" stroke-width="1.8"/>
<text x="180.6" y="1534.7" text-anchor="middle" font-size="17.5">8</text>
<path d="M203.65 1511.6V1516.3" stroke="#000" stroke-width="1.8"/>
<text x="203.65" y="1534.7" text-anchor="middle" font-size="17.5">10</text>
<path d="M227 1511.6V1516.3" stroke="#000" stroke-width="1.8"/>
<text x="227" y="1534.7" text-anchor="middle" font-size="17.5">12</text>
<path d="M249.88 1511.6V1516.3" stroke="#000" stroke-width="1.8"/>
<text x="249.88" y="1534.7" text-anchor="middle" font-size="17.5">14</text>
<path d="M272.75 1511.6V1516.3" stroke="#000" stroke-width="1.8"/>
<text x="272.75" y="1534.7" text-anchor="middle" font-size="17.5">16</text>
<path d="M296.25 1511.6V1516.3" stroke="#000" stroke-width="1.8"/>
<text x="296.25" y="1534.7" text-anchor="middle" font-size="17.5">18</text>
<path d="M319.4 1511.6V1516.3" stroke="#000" stroke-width="1.8"/>
<text x="319.4" y="1534.7" text-anchor="middle" font-size="17.5">20</text>
<path d="M341.5 1511.6V1516.3" stroke="#000" stroke-width="1.8"/>
<text x="341.5" y="1534.7" text-anchor="middle" font-size="17.5">22</text>
<path d="M363.5 1511.6V1516.3" stroke="#000" stroke-width="1.8"/>
<text x="363.5" y="1534.7" text-anchor="middle" font-size="17.5">24</text>
<path d="M386.8 1511.6V1516.3" stroke="#000" stroke-width="1.8"/>
<text x="386.8" y="1534.7" text-anchor="middle" font-size="17.5">26</text>
<path d="M410.3 1511.6V1516.3" stroke="#000" stroke-width="1.8"/>
<text x="410.3" y="1534.7" text-anchor="middle" font-size="17.5">28</text>
<path d="M433.7 1511.6V1516.3" stroke="#000" stroke-width="1.8"/>
<text x="433.7" y="1534.7" text-anchor="middle" font-size="17.5">30</text>
<path d="M457.13 1511.6V1516.3" stroke="#000" stroke-width="1.8"/>
<text x="457.13" y="1534.7" text-anchor="middle" font-size="17.5">32</text>
<path d="M480.57 1511.6V1516.3" stroke="#000" stroke-width="1.8"/>
<text x="480.57" y="1534.7" text-anchor="middle" font-size="17.5">34</text>
<path d="M504 1511.6V1516.3" stroke="#000" stroke-width="1.8"/>
<text x="504" y="1534.7" text-anchor="middle" font-size="17.5">36</text>
<path d="M526.8 1511.6V1516.3" stroke="#000" stroke-width="1.8"/>
<text x="526.8" y="1534.7" text-anchor="middle" font-size="17.5">38</text>
<path d="M550 1511.6V1516.3" stroke="#000" stroke-width="1.8"/>
<text x="550" y="1534.7" text-anchor="middle" font-size="17.5">40</text>
<path d="M573 1511.6V1516.3" stroke="#000" stroke-width="1.8"/>
<text x="330.1" y="1564.5" text-anchor="middle" font-size="17.3">No. of days after RH infection</text>
<text transform="translate(34 1329.7) rotate(-90)" text-anchor="middle" font-size="17.9">Percentage of BALB/c survival</text>
<text x="26.6" y="1116.2" font-size="21.5" font-weight="bold">c</text>
<path d="M87 1141.5L110.4 1141.5" fill="none" stroke="#000" stroke-width="1.6" stroke-dasharray="5.3 5.3"/>
<path d="M110.4 1141.5L133.6 1141.5" fill="none" stroke="#000" stroke-width="1.6" stroke-dasharray="5.3 5.3"/>
<path d="M133.6 1141.5L157 1141.5" fill="none" stroke="#000" stroke-width="1.6" stroke-dasharray="5.3 5.3"/>
<path d="M157 1141.5L180.6 1141.5" fill="none" stroke="#000" stroke-width="1.6" stroke-dasharray="5.3 5.3"/>
<path d="M180.6 1141.5L203.65 1141.5" fill="none" stroke="#000" stroke-width="1.6" stroke-dasharray="5.3 5.3"/>
<path d="M203.65 1141.5L227 1141.5" fill="none" stroke="#000" stroke-width="1.6" stroke-dasharray="5.3 5.3"/>
<path d="M227 1141.5L249.88 1141.5" fill="none" stroke="#000" stroke-width="1.6" stroke-dasharray="5.3 5.3"/>
<path d="M249.88 1141.5L272.75 1141.5" fill="none" stroke="#000" stroke-width="1.6" stroke-dasharray="5.3 5.3"/>
<path d="M272.75 1141.5L296.25 1141.5" fill="none" stroke="#000" stroke-width="1.6" stroke-dasharray="5.3 5.3"/>
<path d="M296.25 1141.5L319.4 1141.5" fill="none" stroke="#000" stroke-width="1.6" stroke-dasharray="5.3 5.3"/>
<path d="M319.4 1141.5L341.5 1141.5" fill="none" stroke="#000" stroke-width="1.6" stroke-dasharray="5.3 5.3"/>
<path d="M341.5 1141.5L363.5 1141.5" fill="none" stroke="#000" stroke-width="1.6" stroke-dasharray="5.3 5.3"/>
<path d="M363.5 1141.5L386.8 1141.5" fill="none" stroke="#000" stroke-width="1.6" stroke-dasharray="5.3 5.3"/>
<path d="M386.8 1141.5L410.3 1141.5" fill="none" stroke="#000" stroke-width="1.6" stroke-dasharray="5.3 5.3"/>
<path d="M410.3 1141.5L433.7 1141.5" fill="none" stroke="#000" stroke-width="1.6" stroke-dasharray="5.3 5.3"/>
<path d="M433.7 1141.5L457.13 1141.5" fill="none" stroke="#000" stroke-width="1.6" stroke-dasharray="5.3 5.3"/>
<path d="M457.13 1141.5L480.57 1141.5" fill="none" stroke="#000" stroke-width="1.6" stroke-dasharray="5.3 5.3"/>
<path d="M480.57 1141.5L504 1141.5" fill="none" stroke="#000" stroke-width="1.6" stroke-dasharray="5.3 5.3"/>
<path d="M504 1141.5L526.8 1141.5" fill="none" stroke="#000" stroke-width="1.6" stroke-dasharray="5.3 5.3"/>
<path d="M526.8 1141.5L550 1141.5" fill="none" stroke="#000" stroke-width="1.6" stroke-dasharray="5.3 5.3"/>
<rect x="83.05" y="1136.85" width="7.9" height="9.3" fill="none" stroke="#000" stroke-width="1.3"/>
<rect x="106.45" y="1136.85" width="7.9" height="9.3" fill="none" stroke="#000" stroke-width="1.3"/>
<rect x="129.65" y="1136.85" width="7.9" height="9.3" fill="none" stroke="#000" stroke-width="1.3"/>
<rect x="153.05" y="1136.85" width="7.9" height="9.3" fill="none" stroke="#000" stroke-width="1.3"/>
<rect x="176.65" y="1136.85" width="7.9" height="9.3" fill="none" stroke="#000" stroke-width="1.3"/>
<rect x="199.7" y="1136.85" width="7.9" height="9.3" fill="none" stroke="#000" stroke-width="1.3"/>
<rect x="223.05" y="1136.85" width="7.9" height="9.3" fill="none" stroke="#000" stroke-width="1.3"/>
<rect x="245.93" y="1136.85" width="7.9" height="9.3" fill="none" stroke="#000" stroke-width="1.3"/>
<rect x="268.8" y="1136.85" width="7.9" height="9.3" fill="none" stroke="#000" stroke-width="1.3"/>
<rect x="292.3" y="1136.85" width="7.9" height="9.3" fill="none" stroke="#000" stroke-width="1.3"/>
<rect x="315.45" y="1136.85" width="7.9" height="9.3" fill="none" stroke="#000" stroke-width="1.3"/>
<rect x="337.55" y="1136.85" width="7.9" height="9.3" fill="none" stroke="#000" stroke-width="1.3"/>
<rect x="359.55" y="1136.85" width="7.9" height="9.3" fill="none" stroke="#000" stroke-width="1.3"/>
<rect x="382.85" y="1136.85" width="7.9" height="9.3" fill="none" stroke="#000" stroke-width="1.3"/>
<rect x="406.35" y="1136.85" width="7.9" height="9.3" fill="none" stroke="#000" stroke-width="1.3"/>
<rect x="429.75" y="1136.85" width="7.9" height="9.3" fill="none" stroke="#000" stroke-width="1.3"/>
<rect x="453.18" y="1136.85" width="7.9" height="9.3" fill="none" stroke="#000" stroke-width="1.3"/>
<rect x="476.62" y="1136.85" width="7.9" height="9.3" fill="none" stroke="#000" stroke-width="1.3"/>
<rect x="500.05" y="1136.85" width="7.9" height="9.3" fill="none" stroke="#000" stroke-width="1.3"/>
<rect x="522.85" y="1136.85" width="7.9" height="9.3" fill="none" stroke="#000" stroke-width="1.3"/>
<rect x="546.05" y="1136.85" width="7.9" height="9.3" fill="none" stroke="#000" stroke-width="1.3"/>
<path d="M87 1141.5L110.4 1141.5" fill="none" stroke="#000" stroke-width="1.6" stroke-dasharray="13 5.5 4.6 5.5"/>
<path d="M110.4 1141.5L133.6 1141.5" fill="none" stroke="#000" stroke-width="1.6" stroke-dasharray="13 5.5 4.6 5.5"/>
<path d="M133.6 1141.5L157 1141.5" fill="none" stroke="#000" stroke-width="1.6" stroke-dasharray="13 5.5 4.6 5.5"/>
<path d="M157 1141.5L180.6 1141.5" fill="none" stroke="#000" stroke-width="1.6" stroke-dasharray="13 5.5 4.6 5.5"/>
<path d="M180.6 1141.5L203.65 1141.5" fill="none" stroke="#000" stroke-width="1.6" stroke-dasharray="13 5.5 4.6 5.5"/>
<path d="M203.65 1141.5L227 1141.5" fill="none" stroke="#000" stroke-width="1.6" stroke-dasharray="13 5.5 4.6 5.5"/>
<path d="M227 1141.5L249.88 1141.5" fill="none" stroke="#000" stroke-width="1.6" stroke-dasharray="13 5.5 4.6 5.5"/>
<path d="M249.88 1141.5L272.75 1141.5" fill="none" stroke="#000" stroke-width="1.6" stroke-dasharray="13 5.5 4.6 5.5"/>
<path d="M272.75 1141.5L296.25 1141.5" fill="none" stroke="#000" stroke-width="1.6" stroke-dasharray="13 5.5 4.6 5.5"/>
<path d="M296.25 1141.5L319.4 1141.5" fill="none" stroke="#000" stroke-width="1.6" stroke-dasharray="13 5.5 4.6 5.5"/>
<path d="M319.4 1141.5L341.5 1141.5" fill="none" stroke="#000" stroke-width="1.6" stroke-dasharray="13 5.5 4.6 5.5"/>
<path d="M341.5 1141.5L363.5 1141.5" fill="none" stroke="#000" stroke-width="1.6" stroke-dasharray="13 5.5 4.6 5.5"/>
<path d="M363.5 1141.5L386.8 1141.5" fill="none" stroke="#000" stroke-width="1.6" stroke-dasharray="13 5.5 4.6 5.5"/>
<path d="M386.8 1141.5L410.3 1141.5" fill="none" stroke="#000" stroke-width="1.6" stroke-dasharray="13 5.5 4.6 5.5"/>
<path d="M410.3 1141.5L433.7 1141.5" fill="none" stroke="#000" stroke-width="1.6" stroke-dasharray="13 5.5 4.6 5.5"/>
<path d="M433.7 1141.5L457.13 1141.5" fill="none" stroke="#000" stroke-width="1.6" stroke-dasharray="13 5.5 4.6 5.5"/>
<path d="M457.13 1141.5L480.57 1141.5" fill="none" stroke="#000" stroke-width="1.6" stroke-dasharray="13 5.5 4.6 5.5"/>
<path d="M480.57 1141.5L504 1141.5" fill="none" stroke="#000" stroke-width="1.6" stroke-dasharray="13 5.5 4.6 5.5"/>
<path d="M504 1141.5L526.8 1141.5" fill="none" stroke="#000" stroke-width="1.6" stroke-dasharray="13 5.5 4.6 5.5"/>
<path d="M526.8 1141.5L550 1141.5" fill="none" stroke="#000" stroke-width="1.6" stroke-dasharray="13 5.5 4.6 5.5"/>
<circle cx="87" cy="1141.5" r="4.17" fill="none" stroke="#000" stroke-width="1.25"/>
<circle cx="110.4" cy="1141.5" r="4.17" fill="none" stroke="#000" stroke-width="1.25"/>
<circle cx="133.6" cy="1141.5" r="4.17" fill="none" stroke="#000" stroke-width="1.25"/>
<circle cx="157" cy="1141.5" r="4.17" fill="none" stroke="#000" stroke-width="1.25"/>
<circle cx="180.6" cy="1141.5" r="4.17" fill="none" stroke="#000" stroke-width="1.25"/>
<circle cx="203.65" cy="1141.5" r="4.17" fill="none" stroke="#000" stroke-width="1.25"/>
<circle cx="227" cy="1141.5" r="4.17" fill="none" stroke="#000" stroke-width="1.25"/>
<circle cx="249.88" cy="1141.5" r="4.17" fill="none" stroke="#000" stroke-width="1.25"/>
<circle cx="272.75" cy="1141.5" r="4.17" fill="none" stroke="#000" stroke-width="1.25"/>
<circle cx="296.25" cy="1141.5" r="4.17" fill="none" stroke="#000" stroke-width="1.25"/>
<circle cx="319.4" cy="1141.5" r="4.17" fill="none" stroke="#000" stroke-width="1.25"/>
<circle cx="341.5" cy="1141.5" r="4.17" fill="none" stroke="#000" stroke-width="1.25"/>
<circle cx="363.5" cy="1141.5" r="4.17" fill="none" stroke="#000" stroke-width="1.25"/>
<circle cx="386.8" cy="1141.5" r="4.17" fill="none" stroke="#000" stroke-width="1.25"/>
<circle cx="410.3" cy="1141.5" r="4.17" fill="none" stroke="#000" stroke-width="1.25"/>
<circle cx="433.7" cy="1141.5" r="4.17" fill="none" stroke="#000" stroke-width="1.25"/>
<circle cx="457.13" cy="1141.5" r="4.17" fill="none" stroke="#000" stroke-width="1.25"/>
<circle cx="480.57" cy="1141.5" r="4.17" fill="none" stroke="#000" stroke-width="1.25"/>
<circle cx="504" cy="1141.5" r="4.17" fill="none" stroke="#000" stroke-width="1.25"/>
<circle cx="526.8" cy="1141.5" r="4.17" fill="none" stroke="#000" stroke-width="1.25"/>
<circle cx="550" cy="1141.5" r="4.17" fill="none" stroke="#000" stroke-width="1.25"/>
<path d="M87 1141.5 L110.4 1141.5 L133.6 1141.5 L157 1141.5 L180.6 1141.5 L203.65 1234.02 L227 1234.02 L249.88 1234.02 L272.75 1234.02 L296.25 1234.02 L319.4 1234.02 L341.5 1234.02 L363.5 1234.02 L386.8 1234.02 L410.3 1234.02 L433.7 1234.02 L457.13 1234.02 L480.57 1234.02 L504 1234.02 L526.8 1234.02 L550 1234.02" fill="none" stroke="#000" stroke-width="1.6" stroke-linejoin="round"/>
<path d="M85.85 1135.8L88.15 1135.8L91.27 1144L92.85 1144.3L92.85 1147.68L81.15 1147.68L81.15 1144.3L82.73 1144Z" fill="#000"/>
<path d="M109.25 1135.8L111.55 1135.8L114.67 1144L116.25 1144.3L116.25 1147.68L104.55 1147.68L104.55 1144.3L106.13 1144Z" fill="#000"/>
<path d="M132.45 1135.8L134.75 1135.8L137.87 1144L139.45 1144.3L139.45 1147.68L127.75 1147.68L127.75 1144.3L129.33 1144Z" fill="#000"/>
<path d="M155.85 1135.8L158.15 1135.8L161.27 1144L162.85 1144.3L162.85 1147.68L151.15 1147.68L151.15 1144.3L152.73 1144Z" fill="#000"/>
<path d="M179.45 1135.8L181.75 1135.8L184.87 1144L186.45 1144.3L186.45 1147.68L174.75 1147.68L174.75 1144.3L176.33 1144Z" fill="#000"/>
<path d="M202.5 1228.32L204.8 1228.32L207.92 1236.52L209.5 1236.82L209.5 1240.2L197.8 1240.2L197.8 1236.82L199.38 1236.52Z" fill="#000"/>
<path d="M225.85 1228.32L228.15 1228.32L231.27 1236.52L232.85 1236.82L232.85 1240.2L221.15 1240.2L221.15 1236.82L222.73 1236.52Z" fill="#000"/>
<path d="M248.72 1228.32L251.03 1228.32L254.15 1236.52L255.72 1236.82L255.72 1240.2L244.03 1240.2L244.03 1236.82L245.6 1236.52Z" fill="#000"/>
<path d="M271.6 1228.32L273.9 1228.32L277.02 1236.52L278.6 1236.82L278.6 1240.2L266.9 1240.2L266.9 1236.82L268.48 1236.52Z" fill="#000"/>
<path d="M295.1 1228.32L297.4 1228.32L300.52 1236.52L302.1 1236.82L302.1 1240.2L290.4 1240.2L290.4 1236.82L291.98 1236.52Z" fill="#000"/>
<path d="M318.25 1228.32L320.55 1228.32L323.67 1236.52L325.25 1236.82L325.25 1240.2L313.55 1240.2L313.55 1236.82L315.13 1236.52Z" fill="#000"/>
<path d="M340.35 1228.32L342.65 1228.32L345.77 1236.52L347.35 1236.82L347.35 1240.2L335.65 1240.2L335.65 1236.82L337.23 1236.52Z" fill="#000"/>
<path d="M362.35 1228.32L364.65 1228.32L367.77 1236.52L369.35 1236.82L369.35 1240.2L357.65 1240.2L357.65 1236.82L359.23 1236.52Z" fill="#000"/>
<path d="M385.65 1228.32L387.95 1228.32L391.07 1236.52L392.65 1236.82L392.65 1240.2L380.95 1240.2L380.95 1236.82L382.53 1236.52Z" fill="#000"/>
<path d="M409.15 1228.32L411.45 1228.32L414.57 1236.52L416.15 1236.82L416.15 1240.2L404.45 1240.2L404.45 1236.82L406.03 1236.52Z" fill="#000"/>
<path d="M432.55 1228.32L434.85 1228.32L437.97 1236.52L439.55 1236.82L439.55 1240.2L427.85 1240.2L427.85 1236.82L429.43 1236.52Z" fill="#000"/>
<path d="M455.98 1228.32L458.28 1228.32L461.4 1236.52L462.98 1236.82L462.98 1240.2L451.28 1240.2L451.28 1236.82L452.86 1236.52Z" fill="#000"/>
<path d="M479.42 1228.32L481.72 1228.32L484.84 1236.52L486.42 1236.82L486.42 1240.2L474.72 1240.2L474.72 1236.82L476.3 1236.52Z" fill="#000"/>
<path d="M502.85 1228.32L505.15 1228.32L508.27 1236.52L509.85 1236.82L509.85 1240.2L498.15 1240.2L498.15 1236.82L499.73 1236.52Z" fill="#000"/>
<path d="M525.65 1228.32L527.95 1228.32L531.07 1236.52L532.65 1236.82L532.65 1240.2L520.95 1240.2L520.95 1236.82L522.53 1236.52Z" fill="#000"/>
<path d="M548.85 1228.32L551.15 1228.32L554.27 1236.52L555.85 1236.82L555.85 1240.2L544.15 1240.2L544.15 1236.82L545.73 1236.52Z" fill="#000"/>
<path d="M87 1141.5 L110.4 1141.5 L133.6 1141.5 L157 1141.5 L180.6 1326.55 L203.65 1511.6 L227 1511.6 L249.88 1511.6 L272.75 1511.6 L296.25 1511.6 L319.4 1511.6 L341.5 1511.6 L363.5 1511.6 L386.8 1511.6 L410.3 1511.6 L433.7 1511.6 L457.13 1511.6 L480.57 1511.6 L504 1511.6 L526.8 1511.6 L550 1511.6" fill="none" stroke="#000" stroke-width="1.6" stroke-linejoin="round"/>
<rect x="81.6" y="1136.1" width="10.8" height="10.8" fill="#000"/>
<rect x="105" y="1136.1" width="10.8" height="10.8" fill="#000"/>
<rect x="128.2" y="1136.1" width="10.8" height="10.8" fill="#000"/>
<rect x="151.6" y="1136.1" width="10.8" height="10.8" fill="#000"/>
<rect x="175.2" y="1321.15" width="10.8" height="10.8" fill="#000"/>
<rect x="198.25" y="1506.2" width="10.8" height="10.8" fill="#000"/>
<rect x="221.6" y="1506.2" width="10.8" height="10.8" fill="#000"/>
<rect x="244.47" y="1506.2" width="10.8" height="10.8" fill="#000"/>
<rect x="267.35" y="1506.2" width="10.8" height="10.8" fill="#000"/>
<rect x="290.85" y="1506.2" width="10.8" height="10.8" fill="#000"/>
<rect x="314" y="1506.2" width="10.8" height="10.8" fill="#000"/>
<rect x="336.1" y="1506.2" width="10.8" height="10.8" fill="#000"/>
<rect x="358.1" y="1506.2" width="10.8" height="10.8" fill="#000"/>
<rect x="381.4" y="1506.2" width="10.8" height="10.8" fill="#000"/>
<rect x="404.9" y="1506.2" width="10.8" height="10.8" fill="#000"/>
<rect x="428.3" y="1506.2" width="10.8" height="10.8" fill="#000"/>
<rect x="451.73" y="1506.2" width="10.8" height="10.8" fill="#000"/>
<rect x="475.17" y="1506.2" width="10.8" height="10.8" fill="#000"/>
<rect x="498.6" y="1506.2" width="10.8" height="10.8" fill="#000"/>
<rect x="521.4" y="1506.2" width="10.8" height="10.8" fill="#000"/>
<rect x="544.6" y="1506.2" width="10.8" height="10.8" fill="#000"/>
<path d="M310.7 1308.7H341" stroke="#000" stroke-width="1.6" />
<path d="M341 1308.7H373" stroke="#000" stroke-width="1.6" />
<rect x="336.35" y="1304.3" width="9.3" height="8.8" fill="#000"/>
<text x="377.6" y="1315" font-size="20"><tspan font-style="italic">cps1-1</tspan></text>
<text x="445.9" y="1315" font-size="20">(1</text>
<path d="M468.7 1305L478.5 1314.4M478.5 1305L468.7 1314.4" stroke="#000" stroke-width="1.45"/>
<text x="485.8" y="1315" font-size="20">10</text>
<text x="507" y="1309.5" font-size="14.3">3</text>
<text x="514.5" y="1315" font-size="20">)</text>
<path d="M310.7 1345.7H341" stroke="#000" stroke-width="1.6" />
<path d="M341 1345.7H373" stroke="#000" stroke-width="1.6" />
<path d="M339.85 1340.19L342.15 1340.19L345.38 1348.2L347 1348.5L347 1351.67L335 1351.67L335 1348.5L336.62 1348.2Z" fill="#000"/>
<text x="377.6" y="1350.5" font-size="20"><tspan font-style="italic">cps1</tspan>-1</text>
<text x="445.9" y="1350.5" font-size="20">(1</text>
<path d="M468.7 1340.5L478.5 1349.9M478.5 1340.5L468.7 1349.9" stroke="#000" stroke-width="1.45"/>
<text x="485.8" y="1350.5" font-size="20">10</text>
<text x="507" y="1345" font-size="14.3">4</text>
<text x="514.5" y="1350.5" font-size="20">)</text>
<path d="M310.7 1382.9H341" stroke="#000" stroke-width="1.6" stroke-dasharray="5.3 5.3"/>
<path d="M341 1382.9H373" stroke="#000" stroke-width="1.6" stroke-dasharray="5.3 5.3"/>
<rect x="336.9" y="1377.7" width="8.2" height="9.4" fill="none" stroke="#000" stroke-width="1.2"/>
<text x="377.6" y="1389" font-size="20"><tspan font-style="italic">cps1-1</tspan></text>
<text x="445.9" y="1389" font-size="20">(1</text>
<path d="M468.7 1379L478.5 1388.4M478.5 1379L468.7 1388.4" stroke="#000" stroke-width="1.45"/>
<text x="485.8" y="1389" font-size="20">10</text>
<text x="507" y="1383.5" font-size="14.3">5</text>
<text x="514.5" y="1389" font-size="20">)</text>
<path d="M310.7 1420H341" stroke="#000" stroke-width="1.6" stroke-dasharray="13 5.5 4.6 5.5"/>
<path d="M341 1420H373" stroke="#000" stroke-width="1.6" stroke-dasharray="13 5.5 4.6 5.5"/>
<rect x="336.85" y="1415.05" width="8.3" height="9.3" rx="3" ry="3.3" fill="none" stroke="#000" stroke-width="1.2"/>
<text x="377.6" y="1424.8" font-size="20"><tspan font-style="italic">cps1-1</tspan></text>
<text x="445.9" y="1424.8" font-size="20">(1</text>
<path d="M468.7 1414.8L478.5 1424.2M478.5 1414.8L468.7 1424.2" stroke="#000" stroke-width="1.45"/>
<text x="485.8" y="1424.8" font-size="20">10</text>
<text x="507" y="1419.3" font-size="14.3">6</text>
<text x="514.5" y="1424.8" font-size="20">)</text>
<g><polygon points="49.4,61.46 53.31,61.46 53.31,56.09 49.4,56.09" fill="#fff"/><polygon points="55.37,61.46 59.07,61.46 59.07,56.09 55.37,56.09" fill="#fff"/><polygon points="201.12,454.38 204.54,454.38 204.54,449.68 201.12,449.68" fill="#fff"/><polygon points="206.34,454.38 209.58,454.38 209.58,449.68 206.34,449.68" fill="#fff"/><polygon points="224.92,454.38 228.34,454.38 228.34,449.68 224.92,449.68" fill="#fff"/><polygon points="230.14,454.38 233.38,454.38 233.38,449.68 230.14,449.68" fill="#fff"/><polygon points="249.32,454.38 252.74,454.38 252.74,449.68 249.32,449.68" fill="#fff"/><polygon points="254.54,454.38 257.78,454.38 257.78,449.68 254.54,449.68" fill="#fff"/><polygon points="273.52,454.38 276.94,454.38 276.94,449.68 273.52,449.68" fill="#fff"/><polygon points="278.74,454.38 281.98,454.38 281.98,449.68 278.74,449.68" fill="#fff"/><polygon points="298.12,454.38 301.54,454.38 301.54,449.68 298.12,449.68" fill="#fff"/><polygon points="303.34,454.38 306.58,454.38 306.58,449.68 303.34,449.68" fill="#fff"/><polygon points="501.63,219.46 505.54,219.46 505.54,214.09 501.63,214.09" fill="#fff"/><polygon points="507.6,219.46 511.3,219.46 511.3,214.09 507.6,214.09" fill="#fff"/><polygon points="534.88,219.46 538.78,219.46 538.78,214.09 534.88,214.09" fill="#fff"/><polygon points="540.84,219.46 544.54,219.46 544.54,214.09 540.84,214.09" fill="#fff"/><polygon points="441.31,252.06 445.02,252.06 446.07,246.69 442.35,246.69" fill="#fff"/><polygon points="446.97,252.06 450.93,252.06 451.97,246.69 448.02,246.69" fill="#fff"/><polygon points="459.11,252.06 462.82,252.06 463.86,246.69 460.15,246.69" fill="#fff"/><polygon points="464.77,252.06 468.73,252.06 469.77,246.69 465.82,246.69" fill="#fff"/><polygon points="502.43,252.06 506.34,252.06 506.34,246.69 502.43,246.69" fill="#fff"/><polygon points="508.4,252.06 512.1,252.06 512.1,246.69 508.4,246.69" fill="#fff"/><polygon points="535.68,252.06 539.58,252.06 539.58,246.69 535.68,246.69" fill="#fff"/><polygon points="541.64,252.06 545.34,252.06 545.34,246.69 541.64,246.69" fill="#fff"/><polygon points="459.11,286.66 462.82,286.66 463.86,281.29 460.15,281.29" fill="#fff"/><polygon points="464.77,286.66 468.73,286.66 469.77,281.29 465.82,281.29" fill="#fff"/><polygon points="502.43,286.66 506.34,286.66 506.34,281.29 502.43,281.29" fill="#fff"/><polygon points="508.4,286.66 512.1,286.66 512.1,281.29 508.4,281.29" fill="#fff"/><polygon points="535.68,286.66 539.58,286.66 539.58,281.29 535.68,281.29" fill="#fff"/><polygon points="541.64,286.66 545.34,286.66 545.34,281.29 541.64,281.29" fill="#fff"/><polygon points="441.31,320.96 445.02,320.96 446.07,315.59 442.35,315.59" fill="#fff"/><polygon points="446.97,320.96 450.93,320.96 451.97,315.59 448.02,315.59" fill="#fff"/><polygon points="459.11,320.96 462.82,320.96 463.86,315.59 460.15,315.59" fill="#fff"/><polygon points="464.77,320.96 468.73,320.96 469.77,315.59 465.82,315.59" fill="#fff"/><polygon points="501.83,320.96 505.74,320.96 505.74,315.59 501.83,315.59" fill="#fff"/><polygon points="507.8,320.96 511.5,320.96 511.5,315.59 507.8,315.59" fill="#fff"/><polygon points="535.08,320.96 538.98,320.96 538.98,315.59 535.08,315.59" fill="#fff"/><polygon points="541.04,320.96 544.74,320.96 544.74,315.59 541.04,315.59" fill="#fff"/><polygon points="46.4,609.76 50.31,609.76 50.31,604.39 46.4,604.39" fill="#fff"/><polygon points="52.37,609.76 56.07,609.76 56.07,604.39 52.37,604.39" fill="#fff"/><polygon points="199.72,1003.28 203.14,1003.28 203.14,998.58 199.72,998.58" fill="#fff"/><polygon points="204.94,1003.28 208.18,1003.28 208.18,998.58 204.94,998.58" fill="#fff"/><polygon points="224.04,1003.28 227.46,1003.28 227.46,998.58 224.04,998.58" fill="#fff"/><polygon points="229.26,1003.28 232.5,1003.28 232.5,998.58 229.26,998.58" fill="#fff"/><polygon points="248.36,1003.28 251.78,1003.28 251.78,998.58 248.36,998.58" fill="#fff"/><polygon points="253.58,1003.28 256.82,1003.28 256.82,998.58 253.58,998.58" fill="#fff"/><polygon points="272.68,1003.28 276.1,1003.28 276.1,998.58 272.68,998.58" fill="#fff"/><polygon points="277.9,1003.28 281.14,1003.28 281.14,998.58 277.9,998.58" fill="#fff"/><polygon points="297,1003.28 300.42,1003.28 300.42,998.58 297,998.58" fill="#fff"/><polygon points="302.22,1003.28 305.46,1003.28 305.46,998.58 302.22,998.58" fill="#fff"/><polygon points="450.03,798.86 453.94,798.86 453.94,793.49 450.03,793.49" fill="#fff"/><polygon points="456,798.86 459.7,798.86 459.7,793.49 456,793.49" fill="#fff"/><polygon points="483.28,798.86 487.18,798.86 487.18,793.49 483.28,793.49" fill="#fff"/><polygon points="489.24,798.86 492.94,798.86 492.94,793.49 489.24,793.49" fill="#fff"/><polygon points="405.91,827.66 409.62,827.66 410.67,822.29 406.95,822.29" fill="#fff"/><polygon points="411.57,827.66 415.53,827.66 416.57,822.29 412.62,822.29" fill="#fff"/><polygon points="423.71,827.66 427.42,827.66 428.46,822.29 424.75,822.29" fill="#fff"/><polygon points="429.37,827.66 433.33,827.66 434.37,822.29 430.42,822.29" fill="#fff"/><polygon points="449.53,827.66 453.44,827.66 453.44,822.29 449.53,822.29" fill="#fff"/><polygon points="455.5,827.66 459.2,827.66 459.2,822.29 455.5,822.29" fill="#fff"/><polygon points="482.78,827.66 486.68,827.66 486.68,822.29 482.78,822.29" fill="#fff"/><polygon points="488.74,827.66 492.44,827.66 492.44,822.29 488.74,822.29" fill="#fff"/><polygon points="405.91,858.66 409.62,858.66 410.67,853.29 406.95,853.29" fill="#fff"/><polygon points="411.57,858.66 415.53,858.66 416.57,853.29 412.62,853.29" fill="#fff"/><polygon points="423.71,858.66 427.42,858.66 428.46,853.29 424.75,853.29" fill="#fff"/><polygon points="429.37,858.66 433.33,858.66 434.37,853.29 430.42,853.29" fill="#fff"/><polygon points="449.53,858.66 453.44,858.66 453.44,853.29 449.53,853.29" fill="#fff"/><polygon points="455.5,858.66 459.2,858.66 459.2,853.29 455.5,853.29" fill="#fff"/><polygon points="482.78,858.66 486.68,858.66 486.68,853.29 482.78,853.29" fill="#fff"/><polygon points="488.74,858.66 492.44,858.66 492.44,853.29 488.74,853.29" fill="#fff"/><polygon points="45.4,1148.26 49.31,1148.26 49.31,1142.89 45.4,1142.89" fill="#fff"/><polygon points="51.37,1148.26 55.07,1148.26 55.07,1142.89 51.37,1142.89" fill="#fff"/><polygon points="194.77,1535.98 198.19,1535.98 198.19,1531.28 194.77,1531.28" fill="#fff"/><polygon points="199.99,1535.98 203.23,1535.98 203.23,1531.28 199.99,1531.28" fill="#fff"/><polygon points="218.12,1535.98 221.54,1535.98 221.54,1531.28 218.12,1531.28" fill="#fff"/><polygon points="223.34,1535.98 226.58,1535.98 226.58,1531.28 223.34,1531.28" fill="#fff"/><polygon points="241,1535.98 244.42,1535.98 244.42,1531.28 241,1531.28" fill="#fff"/><polygon points="246.22,1535.98 249.46,1535.98 249.46,1531.28 246.22,1531.28" fill="#fff"/><polygon points="263.87,1535.98 267.29,1535.98 267.29,1531.28 263.87,1531.28" fill="#fff"/><polygon points="269.09,1535.98 272.33,1535.98 272.33,1531.28 269.09,1531.28" fill="#fff"/><polygon points="287.37,1535.98 290.79,1535.98 290.79,1531.28 287.37,1531.28" fill="#fff"/><polygon points="292.59,1535.98 295.83,1535.98 295.83,1531.28 292.59,1531.28" fill="#fff"/><polygon points="408.71,1316.46 412.42,1316.46 413.47,1311.09 409.75,1311.09" fill="#fff"/><polygon points="414.37,1316.46 418.33,1316.46 419.37,1311.09 415.42,1311.09" fill="#fff"/><polygon points="426.51,1316.46 430.22,1316.46 431.26,1311.09 427.55,1311.09" fill="#fff"/><polygon points="432.17,1316.46 436.13,1316.46 437.17,1311.09 433.22,1311.09" fill="#fff"/><polygon points="453.53,1316.46 457.44,1316.46 457.44,1311.09 453.53,1311.09" fill="#fff"/><polygon points="459.5,1316.46 463.2,1316.46 463.2,1311.09 459.5,1311.09" fill="#fff"/><polygon points="486.78,1316.46 490.68,1316.46 490.68,1311.09 486.78,1311.09" fill="#fff"/><polygon points="492.74,1316.46 496.44,1316.46 496.44,1311.09 492.74,1311.09" fill="#fff"/><polygon points="408.71,1351.96 412.42,1351.96 413.47,1346.59 409.75,1346.59" fill="#fff"/><polygon points="414.37,1351.96 418.33,1351.96 419.37,1346.59 415.42,1346.59" fill="#fff"/><polygon points="427.48,1351.96 431.39,1351.96 431.39,1346.59 427.48,1346.59" fill="#fff"/><polygon points="433.45,1351.96 437.15,1351.96 437.15,1346.59 433.45,1346.59" fill="#fff"/><polygon points="453.53,1351.96 457.44,1351.96 457.44,1346.59 453.53,1346.59" fill="#fff"/><polygon points="459.5,1351.96 463.2,1351.96 463.2,1346.59 459.5,1346.59" fill="#fff"/><polygon points="486.78,1351.96 490.68,1351.96 490.68,1346.59 486.78,1346.59" fill="#fff"/><polygon points="492.74,1351.96 496.44,1351.96 496.44,1346.59 492.74,1346.59" fill="#fff"/><polygon points="408.71,1390.46 412.42,1390.46 413.47,1385.09 409.75,1385.09" fill="#fff"/><polygon points="414.37,1390.46 418.33,1390.46 419.37,1385.09 415.42,1385.09" fill="#fff"/><polygon points="426.51,1390.46 430.22,1390.46 431.26,1385.09 427.55,1385.09" fill="#fff"/><polygon points="432.17,1390.46 436.13,1390.46 437.17,1385.09 433.22,1385.09" fill="#fff"/><polygon points="453.53,1390.46 457.44,1390.46 457.44,1385.09 453.53,1385.09" fill="#fff"/><polygon points="459.5,1390.46 463.2,1390.46 463.2,1385.09 459.5,1385.09" fill="#fff"/><polygon points="486.78,1390.46 490.68,1390.46 490.68,1385.09 486.78,1385.09" fill="#fff"/><polygon points="492.74,1390.46 496.44,1390.46 496.44,1385.09 492.74,1385.09" fill="#fff"/><polygon points="408.71,1426.26 412.42,1426.26 413.47,1420.89 409.75,1420.89" fill="#fff"/><polygon points="414.37,1426.26 418.33,1426.26 419.37,1420.89 415.42,1420.89" fill="#fff"/><polygon points="426.51,1426.26 430.22,1426.26 431.26,1420.89 427.55,1420.89" fill="#fff"/><polygon points="432.17,1426.26 436.13,1426.26 437.17,1420.89 433.22,1420.89" fill="#fff"/><polygon points="453.53,1426.26 457.44,1426.26 457.44,1420.89 453.53,1420.89" fill="#fff"/><polygon points="459.5,1426.26 463.2,1426.26 463.2,1420.89 459.5,1420.89" fill="#fff"/><polygon points="486.78,1426.26 490.68,1426.26 490.68,1420.89 486.78,1420.89" fill="#fff"/><polygon points="492.74,1426.26 496.44,1426.26 496.44,1420.89 492.74,1420.89" fill="#fff"/></g>
</svg>
</body></html>
